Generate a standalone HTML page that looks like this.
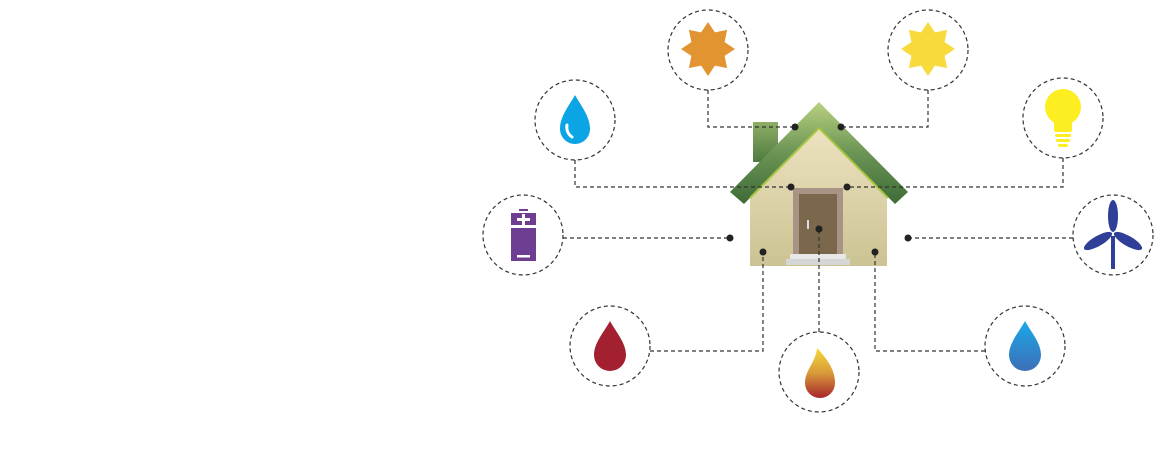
<!DOCTYPE html>
<html><head><meta charset="utf-8"><style>html,body{margin:0;padding:0;background:#fff;}svg{display:block}</style></head>
<body>
<svg width="1171" height="461" viewBox="0 0 1171 461" xmlns="http://www.w3.org/2000/svg">
<defs>
<linearGradient id="roof" x1="0" y1="0" x2="0" y2="1"><stop offset="0" stop-color="#b9d07f"/><stop offset="0.5" stop-color="#6b9455"/><stop offset="1" stop-color="#3e6b37"/></linearGradient>
<linearGradient id="wall" x1="0" y1="0" x2="0" y2="1"><stop offset="0" stop-color="#eee2c0"/><stop offset="1" stop-color="#cbc393"/></linearGradient>
<linearGradient id="flame" x1="0" y1="0" x2="0" y2="1"><stop offset="0" stop-color="#f6d93a"/><stop offset="0.5" stop-color="#d89a3a"/><stop offset="1" stop-color="#a8262d"/></linearGradient>
<linearGradient id="bdrop" x1="0" y1="0" x2="0" y2="1"><stop offset="0" stop-color="#1aa8e8"/><stop offset="1" stop-color="#3d6fb8"/></linearGradient>
<linearGradient id="chim" x1="0" y1="0" x2="0" y2="1"><stop offset="0" stop-color="#8fae67"/><stop offset="1" stop-color="#4f7a40"/></linearGradient>
</defs>
<!-- house -->
<rect x="753" y="122" width="25" height="40" fill="url(#chim)"/>
<polygon points="750,198 819,128 887,198 887,266 750,266" fill="url(#wall)"/>
<polygon points="730,192 819,102 908,192 895,204 819,128 744,204" fill="url(#roof)"/>
<polyline points="750,198 819,128 888,198" fill="none" stroke="#a9c640" stroke-width="2"/>
<rect x="793" y="188" width="50" height="70" fill="#a89484"/>
<rect x="799" y="194" width="38" height="60" fill="#7a674c"/>
<rect x="807" y="220" width="2" height="9" fill="#ddd"/>
<rect x="790" y="254" width="56" height="6" fill="#e8e8e8"/>
<rect x="786" y="259" width="64" height="6" fill="#d6d6d6"/>
<g fill="none" stroke="#333" stroke-width="1.2" stroke-dasharray="4,3">
<circle cx="708" cy="50" r="40"/><circle cx="928" cy="50" r="40"/>
<circle cx="575" cy="120" r="40"/><circle cx="1063" cy="118" r="40"/>
<circle cx="523" cy="235" r="40"/><circle cx="1113" cy="235" r="40"/>
<circle cx="610" cy="346" r="40"/><circle cx="819" cy="372" r="40"/><circle cx="1025" cy="346" r="40"/>
<polyline points="708,90 708,127 795,127"/>
<polyline points="928,90 928,127 841,127"/>
<polyline points="575,160 575,187 791,187"/>
<polyline points="1063,158 1063,187 847,187"/>
<line x1="563" y1="238" x2="730" y2="238"/>
<line x1="1073" y1="238" x2="908" y2="238"/>
<polyline points="650,351 763,351 763,252"/>
<line x1="819" y1="332" x2="819" y2="229"/>
<polyline points="985,351 875,351 875,252"/>
</g>
<g fill="#222">
<circle cx="795" cy="127" r="3.5"/><circle cx="841" cy="127" r="3.5"/>
<circle cx="791" cy="187" r="3.5"/><circle cx="847" cy="187" r="3.5"/>
<circle cx="730" cy="238" r="3.5"/><circle cx="908" cy="238" r="3.5"/>
<circle cx="763" cy="252" r="3.5"/><circle cx="819" cy="229" r="3.5"/><circle cx="875" cy="252" r="3.5"/>
</g>
<!-- suns -->
<polygon fill="#e29430" points="708,22 714.9,32.4 727.1,29.9 724.6,42.1 735,49 724.6,55.9 727.1,68.1 714.9,65.6 708,76 701.1,65.6 688.9,68.1 691.4,55.9 681,49 691.4,42.1 688.9,29.9 701.1,32.4"/>
<polygon fill="#f8da3c" points="928,22 934.9,32.4 947.1,29.9 944.6,42.1 955,49 944.6,55.9 947.1,68.1 934.9,65.6 928,76 921.1,65.6 908.9,68.1 911.4,55.9 901,49 911.4,42.1 908.9,29.9 921.1,32.4"/>
<!-- water drop -->
<g transform="translate(575,121)"><path d="M0,-26 C6,-15 15,-5 15,8 A15,15 0 0 1 -15,8 C-15,-5 -6,-15 0,-26Z" fill="#0ba4e4"/><path d="M-8,4 C-9,10 -6,14 -3,16" stroke="#fff" stroke-width="3" fill="none" stroke-linecap="round"/></g>
<!-- bulb -->
<g fill="#fcee21"><circle cx="1063" cy="107" r="18"/><rect x="1054" y="112" width="18" height="20" rx="2"/>
<rect x="1055" y="134" width="16" height="3" rx="1.5"/><rect x="1056" y="139" width="14" height="3" rx="1.5"/><rect x="1058" y="144" width="10" height="3" rx="1.5"/></g>
<!-- battery -->
<g fill="#6e3e93"><rect x="519" y="209" width="9" height="2"/><rect x="511" y="213" width="25" height="12"/><rect x="511" y="228" width="25" height="33"/></g>
<g fill="#fff"><rect x="517" y="218" width="13" height="3"/><rect x="522" y="214" width="3" height="11"/><rect x="517" y="255" width="13" height="2.5"/></g>
<!-- wind -->
<g fill="#2f3e96"><rect x="1111" y="236" width="4" height="33"/>
<ellipse cx="1113" cy="216" rx="5" ry="16"/>
<ellipse cx="1098" cy="241" rx="5" ry="16" transform="rotate(60 1098 241)"/>
<ellipse cx="1128" cy="241" rx="5" ry="16" transform="rotate(-60 1128 241)"/></g>
<!-- red drop -->
<path transform="translate(610,348)" d="M0,-27 C6,-16 16,-5 16,7 A16,16 0 0 1 -16,7 C-16,-5 -6,-16 0,-27Z" fill="#a2202f"/>
<!-- flame -->
<path transform="translate(820,380)" d="M-3,-32 C8,-20 15,-10 15,3 A15,15 0 0 1 -15,3 C-15,-10 -4,-18 -3,-32Z" fill="url(#flame)"/>
<!-- blue drop -->
<path transform="translate(1025,348)" d="M0,-27 C6,-16 16,-5 16,7 A16,16 0 0 1 -16,7 C-16,-5 -6,-16 0,-27Z" fill="url(#bdrop)"/>
</svg>
</body></html>
